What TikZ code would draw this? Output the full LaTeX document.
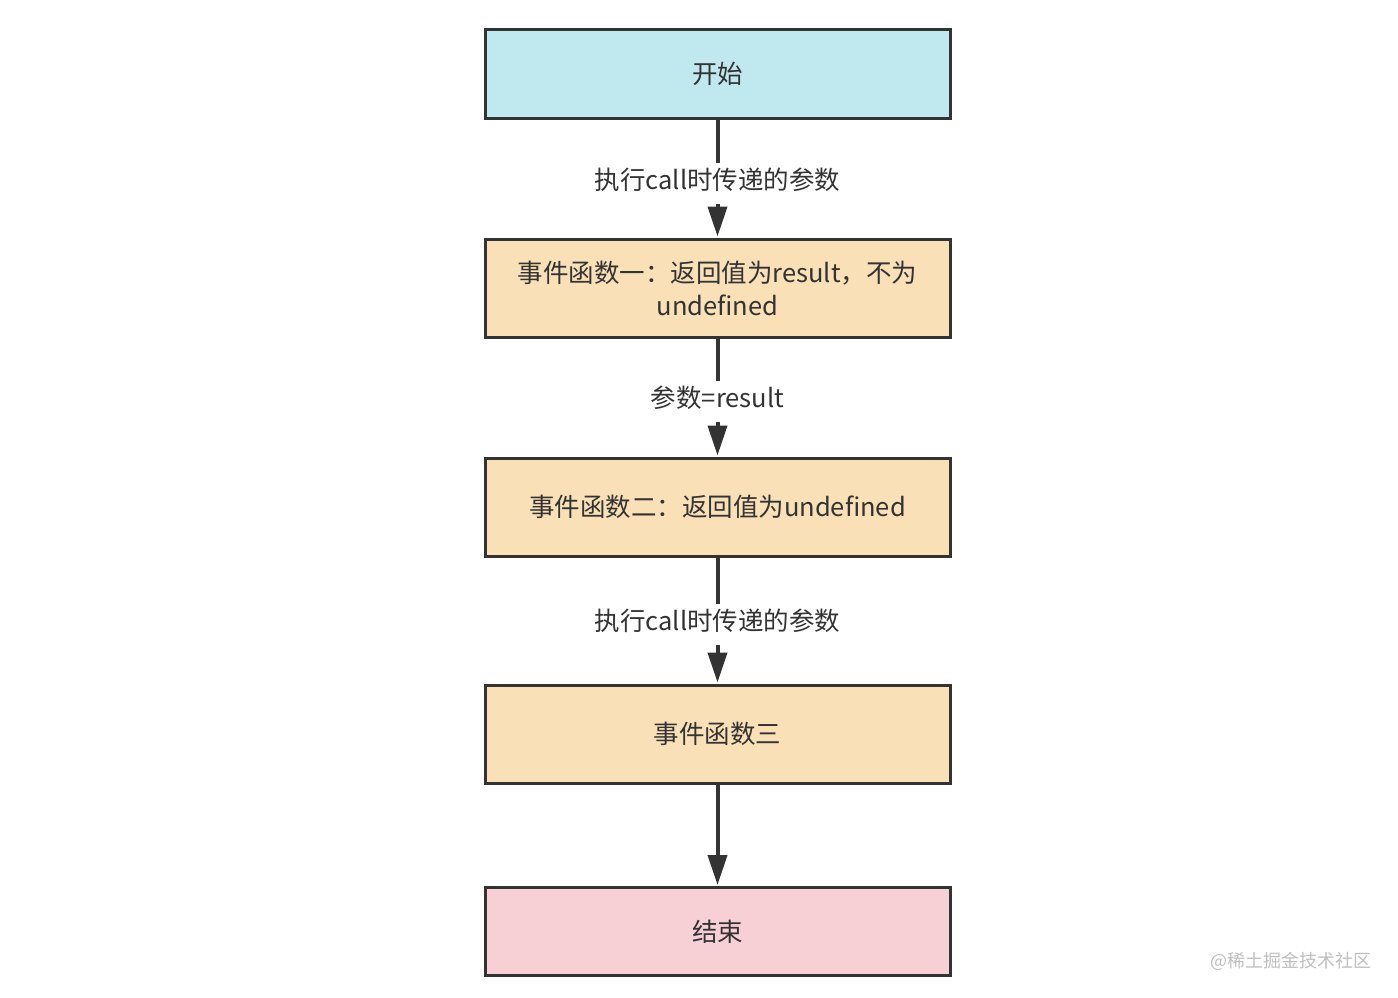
\documentclass[tikz,border=0pt]{standalone}
\usepackage{fontspec}
\setmainfont{Noto Sans CJK SC}
\usetikzlibrary{arrows.meta}
\definecolor{txt}{HTML}{333333}
\definecolor{cyanfill}{HTML}{BFE9EF}
\definecolor{tanfill}{HTML}{F9E0B7}
\definecolor{pinkfill}{HTML}{F7D0D6}
\tikzset{
  box/.style={draw=txt, line width=3pt, minimum width=465pt, minimum height=88pt, inner sep=0pt, text=txt, font=\fontsize{25.5}{33}\selectfont, align=center},
  conn/.style={draw=txt, line width=4pt, -{Triangle[length=30pt,width=19pt]}, shorten >=1pt},
  lbl/.style={fill=white, text=txt, font=\fontsize{25.5}{30}\selectfont, inner xsep=2pt, inner ysep=6pt, text height=21pt, text depth=8pt}
}
\begin{document}
\begin{tikzpicture}[x=1pt,y=-1pt]
\useasboundingbox (0,0) rectangle (1398,998);
\node[box, fill=cyanfill] (start) at (717.5,74) {开始};
\node[box, fill=tanfill, minimum height=98pt] (f1) at (717.5,288) {事件函数一：返回值为result，不为\\undefined};
\node[box, fill=tanfill, minimum height=98pt] (f2) at (717.5,507) {事件函数二：返回值为undefined};
\node[box, fill=tanfill, minimum height=98pt] (f3) at (717.5,734) {事件函数三};
\node[box, fill=pinkfill] (end) at (717.5,931.5) {结束};
\draw[conn] (start) -- node[lbl, pos=0.54] {执行call时传递的参数} (f1);
\draw[conn] (f1) -- node[lbl, pos=0.53] {参数=result} (f2);
\draw[conn] (f2) -- node[lbl, pos=0.53] {执行call时传递的参数} (f3);
\draw[conn] (f3) -- (end);
\node[text=black!25, font=\fontsize{18}{20}\selectfont, anchor=east, inner sep=0pt] (wm) at (1372,961) {@稀土掘金技术社区};
\end{tikzpicture}
\end{document}
